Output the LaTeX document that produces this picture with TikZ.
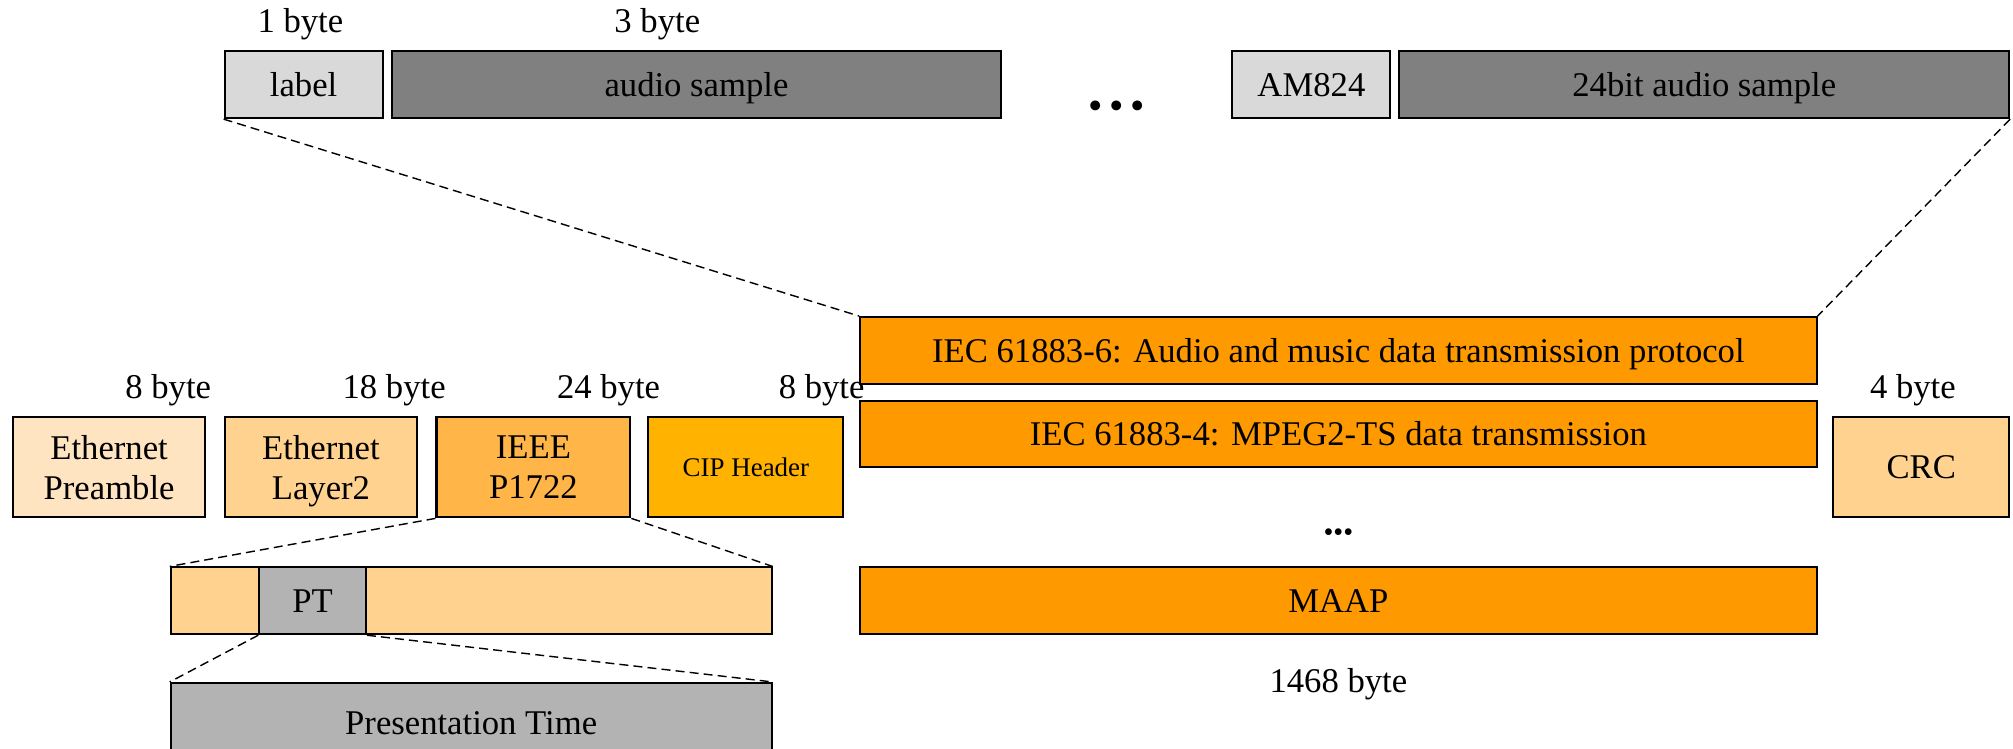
\documentclass[tikz,border=0pt]{standalone}
\usepackage{fontspec}
\setmainfont{Liberation Serif}
\usepackage{tikz}
\usetikzlibrary{positioning}
\definecolor{LabelGray}{HTML}{D9D9D9}
\definecolor{SampleGray}{HTML}{808080}
\definecolor{TimeGray}{HTML}{B3B3B3}
\definecolor{Peach}{HTML}{FFE4C2}
\definecolor{Apricot}{HTML}{FFD28F}
\definecolor{Tangerine}{HTML}{FFB547}
\definecolor{Amber}{HTML}{FFB300}
\definecolor{Pumpkin}{HTML}{FF9900}

\begin{document}
\begin{tikzpicture}[x=1pt,y=1pt,
    field/.style={draw=black,line width=1.6pt,inner sep=0pt,align=center,text depth=0pt,
      font=\fontsize{27}{31}\selectfont},
    bytes/.style={font=\fontsize{27}{31}\selectfont},
    zoomline/.style={line width=1.1pt,dash pattern=on 7pt off 4pt}]
        \useasboundingbox (0,0) rectangle (1568,583);

        % AM824 words
        \node[field,fill=LabelGray,minimum width=123,minimum height=52] (label) at (236.5,517) {label};
        \node[field,fill=SampleGray,minimum width=475,minimum height=52] (audio) at (542.5,517) {audio sample};
        \node[font=\fontsize{32}{36}\selectfont] (topdots) at (870,497) {•\,•\,•};
        \node[field,fill=LabelGray,minimum width=123,minimum height=52] (am824) at (1021.5,517) {AM824};
        \node[field,fill=SampleGray,minimum width=475,minimum height=52] (sample24) at (1327.5,517) {24bit audio sample};
        \node[bytes] (labelbytes) at (234,564) {1 byte};
        \node[bytes] (audiobytes) at (512,564) {3 byte};

        % payload protocols
        \node[field,fill=Pumpkin,minimum width=745,minimum height=52] (iec6) at (1042.5,310) {IEC 61883-6: Audio and music data transmission protocol};
        \node[field,fill=Pumpkin,minimum width=745,minimum height=52] (iec4) at (1042.5,245) {IEC 61883-4: MPEG2-TS data transmission};
        \node[font=\fontsize{22}{26}\selectfont] (middots) at (1042.5,166) {•••};
        \node[field,fill=Pumpkin,minimum width=745,minimum height=52] (maap) at (1042.5,115) {MAAP};
        \node[bytes] (payloadbytes) at (1042.5,50) {1468 byte};

        % frame
        \node[field,fill=Peach,minimum width=150,minimum height=78] (preamble) at (85,219) {Ethernet\\Preamble};
        \node[field,fill=Apricot,minimum width=150,minimum height=78] (layer2) at (250,219) {Ethernet\\Layer2};
        \node[field,fill=Tangerine,minimum width=151,minimum height=78] (p1722) at (415.5,219) {IEEE\\P1722};
        \node[field,fill=Amber,minimum width=152,minimum height=78,font=\fontsize{21}{25}\selectfont] (cip) at (581,219) {CIP Header};
        \node[field,fill=Apricot,minimum width=137,minimum height=78] (crc) at (1496.5,219) {CRC};
        \node[bytes] (preamblebytes) at (131,279) {8 byte};
        \node[bytes] (layer2bytes) at (307,279) {18 byte};
        \node[bytes] (p1722bytes) at (474,279) {24 byte};
        \node[bytes] (cipbytes) at (640,279) {8 byte};
        \node[bytes] (crcbytes) at (1490,279) {4 byte};

        % P1722 header
        \node[field,fill=Apricot,minimum width=468,minimum height=52] (header) at (367,115) {};
        \node[field,fill=TimeGray,minimum width=83,minimum height=52] (pt) at (243.5,115) {PT};
        \node[field,fill=TimeGray,minimum width=468,minimum height=62] (ptime) at (367,20) {Presentation Time};

        \draw[zoomline] (label.south west) -- (iec6.north west);
        \draw[zoomline] (sample24.south east) -- (iec6.north east);
        \draw[zoomline] (p1722.south west) -- (header.north west);
        \draw[zoomline] (p1722.south east) -- (header.north east);
        \draw[zoomline] (pt.south west) -- (ptime.north west);
        \draw[zoomline] (pt.south east) -- (ptime.north east);
      \end{tikzpicture}
\end{document}
